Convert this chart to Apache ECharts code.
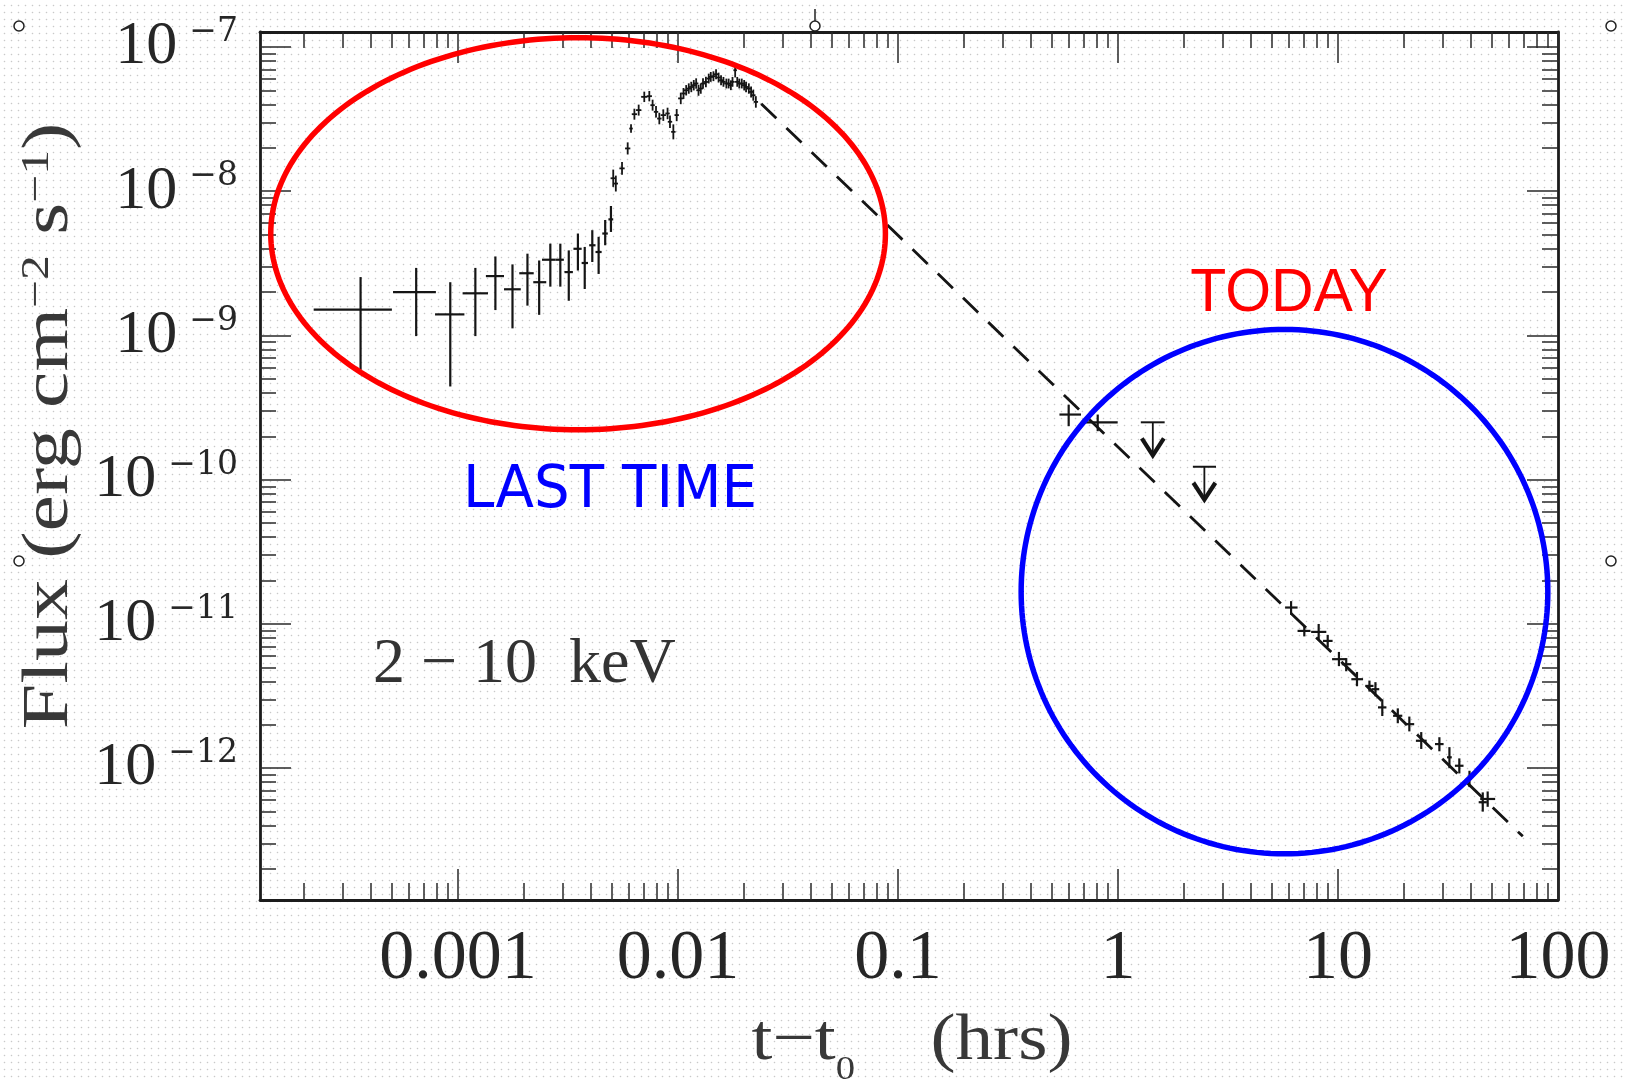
<!DOCTYPE html>
<html><head><meta charset="utf-8">
<script src="https://cdn.jsdelivr.net/npm/echarts@6/dist/echarts.min.js"></script>
<style>
html,body{margin:0;padding:0;width:1625px;height:1079px;overflow:hidden;background-color:#fff;
background-image:radial-gradient(circle at center,#c9c9c9 0,#c9c9c9 0.6px,rgba(255,255,255,0) 1.1px);
background-size:7px 7px;background-position:1px 2px;}
#chart{width:1625px;height:1079px;}
</style></head><body><div id="chart"></div>
<script>
// ---------------- data (t in hours, flux in erg cm^-2 s^-1) ----------------
const xTickValues = [-3, -2, -1, 0, 1, 2];          // log10(t)
const xTickLabels = ['0.001', '0.01', '0.1', '1', '10', '100'];
const yTickValues = [-12, -11, -10, -9, -8, -7];     // log10(flux)
const yTickExponents = ['−12', '−11', '−10', '−9', '−8', '−7'];
const xRange = [1.26e-4, 100];
const yRange = [1.22e-13, 1.27e-7];

// early rise (large error bars)
const riseT   = [3.61e-4, 6.46e-4, 9.23e-4, 1.20e-3, 1.48e-3, 1.77e-3, 2.07e-3, 2.34e-3, 2.63e-3, 2.92e-3, 3.19e-3, 3.51e-3, 3.77e-3, 4.08e-3, 4.36e-3, 4.67e-3, 4.96e-3];
const riseTLo = [2.21e-4, 5.07e-4, 7.87e-4, 1.05e-3, 1.34e-3, 1.62e-3, 1.90e-3, 2.20e-3, 2.41e-3, 2.77e-3, 3.05e-3, 3.35e-3, 3.65e-3, 3.95e-3, 4.22e-3, 4.53e-3, 4.83e-3];
const riseTHi = [5.01e-4, 7.94e-4, 1.07e-3, 1.37e-3, 1.62e-3, 1.93e-3, 2.21e-3, 2.52e-3, 2.77e-3, 3.03e-3, 3.33e-3, 3.65e-3, 3.90e-3, 4.22e-3, 4.50e-3, 4.80e-3, 5.08e-3];
const riseF   = [1.51e-9, 2.00e-9, 1.40e-9, 1.96e-9, 2.58e-9, 2.09e-9, 2.70e-9, 2.34e-9, 3.35e-9, 3.35e-9, 2.75e-9, 3.99e-9, 3.18e-9, 4.22e-9, 3.79e-9, 5.09e-9, 6.38e-9];
const riseFLo = [5.8e-10, 9.9e-10, 4.43e-10, 9.9e-10, 1.50e-9, 1.12e-9, 1.61e-9, 1.39e-9, 2.18e-9, 2.18e-9, 1.74e-9, 2.82e-9, 2.10e-9, 3.23e-9, 2.67e-9, 4.22e-9, 5.22e-9];
const riseFHi = [2.54e-9, 2.94e-9, 2.34e-9, 2.94e-9, 3.53e-9, 3.11e-9, 3.69e-9, 3.31e-9, 4.33e-9, 4.33e-9, 3.89e-9, 5.09e-9, 4.11e-9, 5.37e-9, 4.83e-9, 6.32e-9, 7.90e-9];

// prompt peak (small error bars, half-widths in dex)
const peakT = [5.08e-3, 5.22e-3, 5.57e-3, 5.91e-3, 6.12e-3, 6.34e-3, 6.63e-3, 7.03e-3, 7.41e-3, 7.67e-3, 7.95e-3, 8.23e-3, 8.58e-3, 8.97e-3, 9.20e-3, 9.53e-3, 9.87e-3, 1.03e-2, 1.06e-2, 1.09e-2, 1.12e-2, 1.15e-2, 1.18e-2, 1.21e-2, 1.24e-2, 1.27e-2, 1.30e-2, 1.34e-2, 1.38e-2, 1.41e-2, 1.45e-2, 1.49e-2, 1.53e-2, 1.57e-2, 1.61e-2, 1.66e-2, 1.70e-2, 1.74e-2, 1.77e-2, 1.82e-2, 1.86e-2, 1.90e-2, 1.95e-2, 2.00e-2, 2.04e-2, 2.10e-2, 2.15e-2, 2.20e-2, 2.26e-2];
const peakF = [1.23e-8, 1.13e-8, 1.44e-8, 1.98e-8, 2.72e-8, 3.42e-8, 3.65e-8, 4.51e-8, 4.56e-8, 3.95e-8, 3.55e-8, 3.19e-8, 3.37e-8, 3.46e-8, 3.03e-8, 2.58e-8, 3.37e-8, 4.40e-8, 4.76e-8, 5.01e-8, 5.15e-8, 5.28e-8, 5.43e-8, 5.58e-8, 5.01e-8, 5.15e-8, 5.58e-8, 5.72e-8, 6.04e-8, 6.20e-8, 6.27e-8, 6.47e-8, 6.14e-8, 5.88e-8, 5.73e-8, 5.58e-8, 5.58e-8, 5.43e-8, 5.73e-8, 6.90e-8, 5.73e-8, 5.58e-8, 5.58e-8, 5.43e-8, 5.28e-8, 5.15e-8, 4.88e-8, 4.63e-8, 4.16e-8];
const peakTErrDex = [0.012, 0.010, 0.012, 0.012, 0.008, 0.012, 0.012, 0.014, 0.012, 0.010, 0.010, 0.010, 0.012, 0.010, 0.010, 0.010, 0.010, 0.012, 0.010, 0.010, 0.010, 0.010, 0.010, 0.010, 0.010, 0.010, 0.010, 0.010, 0.010, 0.010, 0.010, 0.010, 0.010, 0.010, 0.010, 0.010, 0.010, 0.010, 0.010, 0.008, 0.010, 0.010, 0.010, 0.010, 0.010, 0.010, 0.010, 0.010, 0.010];
const peakFErrDex = [0.060, 0.055, 0.045, 0.042, 0.030, 0.038, 0.038, 0.036, 0.036, 0.038, 0.040, 0.040, 0.040, 0.040, 0.044, 0.052, 0.042, 0.040, 0.038, 0.036, 0.036, 0.036, 0.036, 0.036, 0.038, 0.036, 0.036, 0.036, 0.034, 0.034, 0.034, 0.034, 0.034, 0.034, 0.034, 0.034, 0.034, 0.034, 0.034, 0.050, 0.034, 0.034, 0.034, 0.036, 0.036, 0.036, 0.038, 0.038, 0.040];

// afterglow
const lateT   = [0.597, 0.809, 6.12, 7.03, 8.17, 8.98, 10.1, 10.9, 12.2, 13.9, 14.8, 15.9, 18.7, 21.1, 23.9, 28.9, 32.1, 35.6, 39.6, 45.5, 47.9];
const lateTLo = [0.542, 0.703, 5.75, 6.55, 7.55, 8.55, 9.40, 10.4, 11.5, 13.3, 14.2, 15.2, 17.8, 20.1, 22.6, 27.6, 31.3, 34.0, 38.8, 43.6, 44.3];
const lateTHi = [0.679, 0.997, 6.55, 7.50, 8.85, 9.45, 10.9, 11.5, 13.0, 14.5, 15.4, 16.6, 19.6, 22.2, 25.3, 30.2, 32.9, 37.2, 40.4, 47.5, 51.8];
const lateF   = [2.83e-10, 2.50e-10, 1.30e-11, 8.95e-12, 8.81e-12, 7.63e-12, 5.70e-12, 5.26e-12, 4.14e-12, 3.72e-12, 3.53e-12, 2.64e-12, 2.31e-12, 2.02e-12, 1.55e-12, 1.47e-12, 1.19e-12, 1.04e-12, 8.41e-13, 5.81e-13, 6.12e-13];
const lateFLo = [2.35e-10, 2.17e-10, 1.16e-11, 8.2e-12, 7.8e-12, 6.9e-12, 5.1e-12, 4.7e-12, 3.7e-12, 3.4e-12, 3.15e-12, 2.3e-12, 2.05e-12, 1.8e-12, 1.36e-12, 1.31e-12, 1.0e-12, 9.2e-13, 7.4e-13, 5.0e-13, 5.4e-13];
const lateFHi = [3.31e-10, 2.83e-10, 1.44e-11, 9.7e-12, 1.0e-11, 8.4e-12, 6.4e-12, 5.8e-12, 4.65e-12, 4.05e-12, 3.95e-12, 3.0e-12, 2.6e-12, 2.28e-12, 1.78e-12, 1.64e-12, 1.40e-12, 1.17e-12, 9.6e-13, 6.8e-13, 6.9e-13];

// upper limits
const ulT   = [1.44, 2.47];
const ulTLo = [1.27, 2.19];
const ulTHi = [1.63, 2.79];
const ulF   = [2.50e-10, 1.23e-10];

// power-law decay model (dashed)
const modelT = [0.0239, 69.2];
const modelF = [4.04e-8, 3.37e-13];

// annotation ellipses (bounds in data space)
const redEllipseT  = [1.41e-4, 0.0877];
const redEllipseF  = [2.22e-10, 1.16e-7];
const blueEllipseT = [0.363, 89.9];
const blueEllipseF = [2.55e-13, 1.10e-9];

// ---------------- build ----------------
const L = Math.log10;
const XR = [L(xRange[0]), L(xRange[1])];
const YR = [L(yRange[0]), L(yRange[1])];

function minorTicks(r) {
  const out = [];
  for (let d = Math.floor(r[0]); d <= Math.ceil(r[1]); d++)
    for (let k = 2; k <= 9; k++) { const v = d + L(k); if (v > r[0] && v < r[1]) out.push(v); }
  return out;
}
const xMinor = minorTicks(XR), yMinor = minorTicks(YR);

const errData = riseT.map((t, i) => [L(t), L(riseTLo[i]), L(riseTHi[i]), L(riseF[i]), L(riseFLo[i]), L(riseFHi[i]), 2.2]);
const peakData = peakT.map((t, i) => [L(t), L(t) - peakTErrDex[i], L(t) + peakTErrDex[i], L(peakF[i]), L(peakF[i]) - peakFErrDex[i], L(peakF[i]) + peakFErrDex[i], 1.8]);
const lateData = lateT.map((t, i) => [L(t), L(lateTLo[i]), L(lateTHi[i]), L(lateF[i]), L(lateFLo[i]), L(lateFHi[i]), 2.2]);
const ulData = ulT.map((t, i) => [L(t), L(ulTLo[i]), L(ulTHi[i]), L(ulF[i])]);
const modelData = modelT.map((t, i) => [L(t), L(modelF[i])]);

const INK = '#151515';
function errRender(params, api) {
  const x = api.value(0), y = api.value(3), w = api.value(6);
  const a = api.coord([api.value(1), y]), b = api.coord([api.value(2), y]);
  const c = api.coord([x, api.value(4)]), d = api.coord([x, api.value(5)]);
  const st = { stroke: INK, lineWidth: w };
  return { type: 'group', children: [
    { type: 'line', shape: { x1: a[0], y1: a[1], x2: b[0], y2: b[1] }, style: st },
    { type: 'line', shape: { x1: c[0], y1: c[1], x2: d[0], y2: d[1] }, style: st }
  ]};
}
function ulRender(params, api) {
  const p = api.coord([api.value(0), api.value(3)]);
  const a = api.coord([api.value(1), api.value(3)]), b = api.coord([api.value(2), api.value(3)]);
  const tip = p[1] + 33;
  return { type: 'group', children: [
    { type: 'line', shape: { x1: a[0], y1: a[1], x2: b[0], y2: b[1] }, style: { stroke: INK, lineWidth: 2 } },
    { type: 'line', shape: { x1: p[0], y1: p[1], x2: p[0], y2: tip }, style: { stroke: INK, lineWidth: 1.8 } },
    { type: 'polyline', shape: { points: [[p[0] - 11, tip - 17], [p[0], tip], [p[0] + 11, tip - 17]] }, style: { stroke: INK, lineWidth: 4.2, fill: 'none' } }
  ]};
}
function ellipseRender(color) {
  return function (params, api) {
    const a = api.coord([api.value(0), api.value(2)]);
    const b = api.coord([api.value(1), api.value(3)]);
    const cx = (a[0] + b[0]) / 2, cy = (a[1] + b[1]) / 2;
    const rx = Math.abs(b[0] - a[0]) / 2, ry = Math.abs(a[1] - b[1]) / 2;
    const pts = [];
    for (let i = 0; i < 240; i++) { const th = i / 240 * 2 * Math.PI; pts.push([cx + rx * Math.cos(th), cy + ry * Math.sin(th)]); }
    return { type: 'polygon', shape: { points: pts }, style: { fill: 'none', stroke: color, lineWidth: 5.5 } };
  };
}

function axis(range, pos, tickVals, len, showLine, label) {
  return {
    type: 'value', gridIndex: 0, position: pos, min: range[0], max: range[1],
    axisLine: { show: showLine, onZero: false, lineStyle: { color: '#1c1c1c', width: 2.8 } },
    axisTick: { show: true, inside: true, length: len, customValues: tickVals, lineStyle: { color: '#2a2a2a', width: 1.5 } },
    axisLabel: label || { show: false },
    splitLine: { show: false }, minorTick: { show: false }, minorSplitLine: { show: false }
  };
}

const xLabel = {
  show: true, customValues: xTickValues, margin: 25,
  formatter: v => xTickLabels[xTickValues.indexOf(Math.round(v))],
  fontFamily: 'Liberation Serif', fontSize: 70, color: '#262626'
};
const yLabel = {
  show: true, customValues: yTickValues, margin: 22,
  formatter: v => '{b|10}{e|' + yTickExponents[yTickValues.indexOf(Math.round(v))] + '}',
  rich: {
    b: { fontFamily: 'Liberation Serif', fontSize: 62, color: '#262626' },
    e: { fontFamily: 'DejaVu Serif', fontSize: 33, color: '#262626', verticalAlign: 'top', padding: [0, 0, 0, 12] }
  }
};

const chart = echarts.init(document.getElementById('chart'), null, { renderer: 'canvas' });
chart.setOption({
  animation: false,
  backgroundColor: 'transparent',
  grid: { left: 260, right: 67, top: 32, bottom: 179, containLabel: false, outerBoundsMode: 'none' },
  xAxis: [
    axis(XR, 'bottom', xTickValues, 31, true, xLabel),
    axis(XR, 'bottom', xMinor, 17, false),
    axis(XR, 'top', xTickValues, 31, true),
    axis(XR, 'top', xMinor, 16, false)
  ],
  yAxis: [
    axis(YR, 'left', yTickValues, 31, true, yLabel),
    axis(YR, 'left', yMinor, 16, false),
    axis(YR, 'right', yTickValues, 31, true),
    axis(YR, 'right', yMinor, 16, false)
  ],
  series: [
    { type: 'line', data: modelData, symbol: 'none', silent: true, z: 3,
      lineStyle: { color: INK, width: 2.8, type: [21, 14] } },
    { type: 'custom', renderItem: errRender, data: errData, encode: { x: [0, 1, 2], y: [3, 4, 5] }, z: 4, silent: true },
    { type: 'custom', renderItem: errRender, data: peakData, encode: { x: [0, 1, 2], y: [3, 4, 5] }, z: 4, silent: true },
    { type: 'custom', renderItem: errRender, data: lateData, encode: { x: [0, 1, 2], y: [3, 4, 5] }, z: 4, silent: true },
    { type: 'custom', renderItem: ulRender, data: ulData, encode: { x: [0, 1, 2], y: 3 }, z: 4, silent: true },
    { type: 'custom', renderItem: ellipseRender('#ff0000'), clip: false, silent: true, z: 10,
      data: [[L(redEllipseT[0]), L(redEllipseT[1]), L(redEllipseF[0]), L(redEllipseF[1])]], encode: { x: [0, 1], y: [2, 3] } },
    { type: 'custom', renderItem: ellipseRender('#0000ff'), clip: false, silent: true, z: 10,
      data: [[L(blueEllipseT[0]), L(blueEllipseT[1]), L(blueEllipseF[0]), L(blueEllipseF[1])]], encode: { x: [0, 1], y: [2, 3] } }
  ],
  graphic: [
    { type: 'text', x: 50, y: 426, rotation: Math.PI / 2, scaleX: 1.24, silent: true,
      style: { text: '{a|Flux (erg cm}{s|−2}{a| s}{s|−1}{a|)}', align: 'center', verticalAlign: 'middle', textAlign: 'center', textVerticalAlign: 'middle',
        rich: { a: { fontFamily: 'Liberation Serif', fontSize: 66, fill: '#383838', color: '#383838' },
                s: { fontFamily: 'Liberation Serif', fontSize: 40, fill: '#383838', color: '#383838', verticalAlign: 'top' } } } },
    { type: 'text', x: 912, y: 1042, scaleX: 1.14, silent: true,
      style: { text: '{a|t−t}{s|0}{a|    (hrs)}', align: 'center', verticalAlign: 'middle', textAlign: 'center', textVerticalAlign: 'middle',
        rich: { a: { fontFamily: 'Liberation Serif', fontSize: 66, lineHeight: 90, fill: '#383838', color: '#383838' },
                s: { fontFamily: 'Liberation Serif', fontSize: 34, lineHeight: 36, fill: '#383838', color: '#383838', verticalAlign: 'bottom' } } } },
    { type: 'text', x: 373, y: 665, silent: true,
      style: { text: '2 − 10  keV', fontFamily: 'Liberation Serif', fontSize: 64, fill: '#333', align: 'left', verticalAlign: 'middle', textAlign: 'left', textVerticalAlign: 'middle' } },
    { type: 'text', x: 610, y: 492, scaleX: 0.97, silent: true,
      style: { text: 'LAST TIME', fontFamily: 'DejaVu Sans', fontSize: 58, fill: '#0000ff', align: 'center', verticalAlign: 'middle', textAlign: 'center', textVerticalAlign: 'middle' } },
    { type: 'text', x: 1289, y: 294, scaleX: 0.95, silent: true,
      style: { text: 'TODAY', fontFamily: 'Liberation Sans', fontSize: 62, fill: '#ff0000', align: 'center', verticalAlign: 'middle', textAlign: 'center', textVerticalAlign: 'middle' } },
    // slide selection handles
    { type: 'line', shape: { x1: 815, y1: 9, x2: 815, y2: 21 }, style: { stroke: '#222', lineWidth: 1.5 }, silent: true },
    { type: 'circle', shape: { cx: 19, cy: 26, r: 5 }, style: { fill: '#fff', stroke: '#222', lineWidth: 1.5 }, silent: true },
    { type: 'circle', shape: { cx: 815, cy: 26, r: 5 }, style: { fill: '#fff', stroke: '#222', lineWidth: 1.5 }, silent: true },
    { type: 'circle', shape: { cx: 1611, cy: 26, r: 5 }, style: { fill: '#fff', stroke: '#222', lineWidth: 1.5 }, silent: true },
    { type: 'circle', shape: { cx: 19, cy: 561, r: 5 }, style: { fill: '#fff', stroke: '#222', lineWidth: 1.5 }, silent: true },
    { type: 'circle', shape: { cx: 1611, cy: 561, r: 5 }, style: { fill: '#fff', stroke: '#222', lineWidth: 1.5 }, silent: true }
  ]
});
</script></body></html>
